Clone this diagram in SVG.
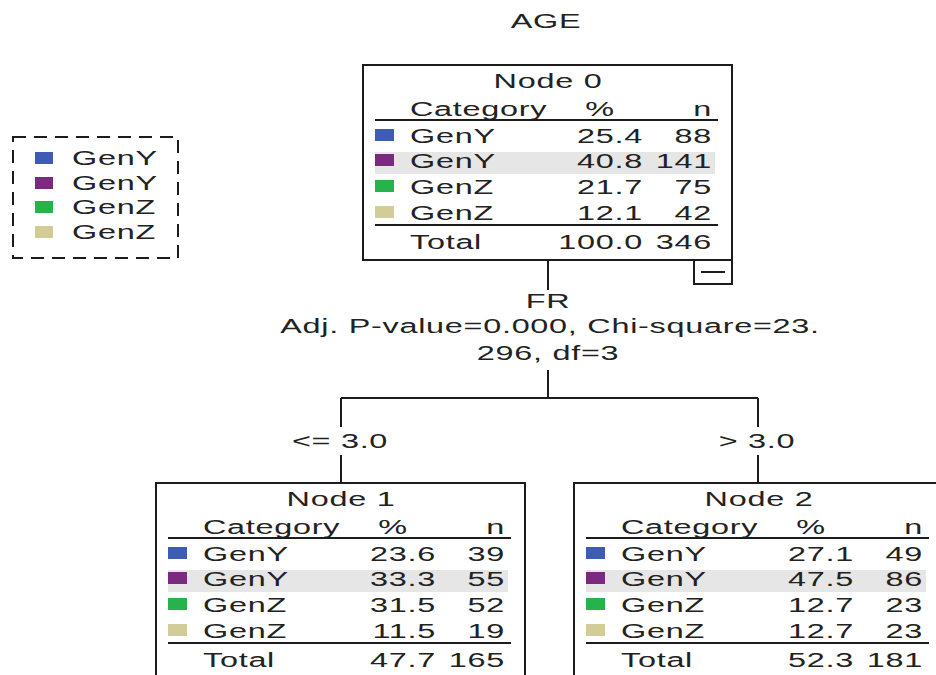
<svg xmlns="http://www.w3.org/2000/svg" width="936" height="675" viewBox="0 0 936 675">
  <style>
    .t { font-family: "Liberation Sans", Arial, sans-serif; font-size: 20px; fill: #222222; letter-spacing: 0.45px; }
    .m { text-anchor: middle; }
    .e { text-anchor: end; }
    .box { fill: #ffffff; stroke: #1c1c1c; stroke-width: 2; }
    .rule { stroke: #1c1c1c; stroke-width: 2; }
    .conn { fill: none; stroke: #1c1c1c; stroke-width: 2; }
    .hl { fill: #e6e6e6; }
    .c1 { fill: #3f5cb4; }
    .c2 { fill: #7a2a7f; }
    .c3 { fill: #27b34c; }
    .c4 { fill: #d2cc97; }
  </style>

  <!-- dependent variable title -->
  <text class="t m" transform="translate(546 28) scale(1.62 1)">AGE</text>

  <!-- legend -->
  <g id="legend">
    <rect x="13" y="137" width="165" height="121" fill="none" stroke="#1c1c1c" stroke-width="2" stroke-dasharray="13 8"/>
    <rect class="c1" x="35" y="152" width="18" height="12"/>
    <rect class="c2" x="35" y="177" width="18" height="12"/>
    <rect class="c3" x="35" y="201" width="18" height="12"/>
    <rect class="c4" x="35" y="226" width="18" height="12"/>
    <text class="t" transform="translate(72 165) scale(1.62 1)">GenY</text>
    <text class="t" transform="translate(72 190) scale(1.62 1)">GenY</text>
    <text class="t" transform="translate(72 214) scale(1.62 1)">GenZ</text>
    <text class="t" transform="translate(72 239) scale(1.62 1)">GenZ</text>
  </g>

  <!-- connectors and split labels -->
  <g id="connectors">
    <path class="conn" d="M548 260 V290"/>
    <path class="conn" d="M548 370 V398 M341 398 H758 M341 398 V427 M758 398 V427 M341 455 V483 M758 455 V483"/>
    <rect x="694" y="260" width="38" height="24" fill="#ffffff" stroke="#1c1c1c" stroke-width="2"/>
    <path class="conn" d="M701 272 H725"/>
    <text class="t m" transform="translate(548 308) scale(1.62 1)">FR</text>
    <text class="t m" transform="translate(550 333) scale(1.62 1)">Adj. P-value=0.000, Chi-square=23.</text>
    <text class="t m" transform="translate(548 360) scale(1.62 1)">296, df=3</text>
    <text class="t m" transform="translate(340 448) scale(1.62 1)">&lt;= 3.0</text>
    <text class="t m" transform="translate(757 448) scale(1.62 1)">&gt; 3.0</text>
  </g>

  <!-- Node 0 -->
  <g id="node0" transform="translate(363 65)">
    <rect class="box" x="0" y="0" width="369" height="195"/>
    <text class="t m" transform="translate(185 23) scale(1.62 1)">Node 0</text>
    <text class="t" transform="translate(47 51) scale(1.62 1)">Category</text>
    <text class="t m" transform="translate(237 51) scale(1.62 1)">%</text>
    <text class="t e" transform="translate(349 51) scale(1.62 1)">n</text>
    <line class="rule" x1="12" y1="55" x2="355" y2="55"/>
    <rect class="hl" x="12" y="87" width="340" height="22"/>
    <rect class="c1" x="12" y="64" width="19" height="12"/>
    <rect class="c2" x="12" y="89" width="19" height="12"/>
    <rect class="c3" x="12" y="115" width="19" height="12"/>
    <rect class="c4" x="12" y="141" width="19" height="12"/>
    <text class="t" transform="translate(47 78) scale(1.62 1)">GenY</text>
    <text class="t e" transform="translate(280 78) scale(1.62 1)">25.4</text>
    <text class="t e" transform="translate(349 78) scale(1.62 1)">88</text>
    <text class="t" transform="translate(47 103) scale(1.62 1)">GenY</text>
    <text class="t e" transform="translate(280 103) scale(1.62 1)">40.8</text>
    <text class="t e" transform="translate(349 103) scale(1.62 1)">141</text>
    <text class="t" transform="translate(47 129) scale(1.62 1)">GenZ</text>
    <text class="t e" transform="translate(280 129) scale(1.62 1)">21.7</text>
    <text class="t e" transform="translate(349 129) scale(1.62 1)">75</text>
    <text class="t" transform="translate(47 155) scale(1.62 1)">GenZ</text>
    <text class="t e" transform="translate(280 155) scale(1.62 1)">12.1</text>
    <text class="t e" transform="translate(349 155) scale(1.62 1)">42</text>
    <line class="rule" x1="12" y1="160" x2="355" y2="160"/>
    <text class="t" transform="translate(47 184) scale(1.62 1)">Total</text>
    <text class="t e" transform="translate(280 184) scale(1.62 1)">100.0</text>
    <text class="t e" transform="translate(349 184) scale(1.62 1)">346</text>
  </g>

  <!-- Node 1 -->
  <g id="node1" transform="translate(156 483)">
    <rect class="box" x="0" y="0" width="369" height="195"/>
    <text class="t m" transform="translate(185 23) scale(1.62 1)">Node 1</text>
    <text class="t" transform="translate(47 51) scale(1.62 1)">Category</text>
    <text class="t m" transform="translate(237 51) scale(1.62 1)">%</text>
    <text class="t e" transform="translate(349 51) scale(1.62 1)">n</text>
    <line class="rule" x1="12" y1="55" x2="355" y2="55"/>
    <rect class="hl" x="12" y="87" width="340" height="22"/>
    <rect class="c1" x="12" y="64" width="19" height="12"/>
    <rect class="c2" x="12" y="89" width="19" height="12"/>
    <rect class="c3" x="12" y="115" width="19" height="12"/>
    <rect class="c4" x="12" y="141" width="19" height="12"/>
    <text class="t" transform="translate(47 78) scale(1.62 1)">GenY</text>
    <text class="t e" transform="translate(280 78) scale(1.62 1)">23.6</text>
    <text class="t e" transform="translate(349 78) scale(1.62 1)">39</text>
    <text class="t" transform="translate(47 103) scale(1.62 1)">GenY</text>
    <text class="t e" transform="translate(280 103) scale(1.62 1)">33.3</text>
    <text class="t e" transform="translate(349 103) scale(1.62 1)">55</text>
    <text class="t" transform="translate(47 129) scale(1.62 1)">GenZ</text>
    <text class="t e" transform="translate(280 129) scale(1.62 1)">31.5</text>
    <text class="t e" transform="translate(349 129) scale(1.62 1)">52</text>
    <text class="t" transform="translate(47 155) scale(1.62 1)">GenZ</text>
    <text class="t e" transform="translate(280 155) scale(1.62 1)">11.5</text>
    <text class="t e" transform="translate(349 155) scale(1.62 1)">19</text>
    <line class="rule" x1="12" y1="160" x2="355" y2="160"/>
    <text class="t" transform="translate(47 184) scale(1.62 1)">Total</text>
    <text class="t e" transform="translate(280 184) scale(1.62 1)">47.7</text>
    <text class="t e" transform="translate(349 184) scale(1.62 1)">165</text>
  </g>

  <!-- Node 2 -->
  <g id="node2" transform="translate(574 483)">
    <rect class="box" x="0" y="0" width="369" height="195"/>
    <text class="t m" transform="translate(185 23) scale(1.62 1)">Node 2</text>
    <text class="t" transform="translate(47 51) scale(1.62 1)">Category</text>
    <text class="t m" transform="translate(237 51) scale(1.62 1)">%</text>
    <text class="t e" transform="translate(349 51) scale(1.62 1)">n</text>
    <line class="rule" x1="12" y1="55" x2="355" y2="55"/>
    <rect class="hl" x="12" y="87" width="340" height="22"/>
    <rect class="c1" x="12" y="64" width="19" height="12"/>
    <rect class="c2" x="12" y="89" width="19" height="12"/>
    <rect class="c3" x="12" y="115" width="19" height="12"/>
    <rect class="c4" x="12" y="141" width="19" height="12"/>
    <text class="t" transform="translate(47 78) scale(1.62 1)">GenY</text>
    <text class="t e" transform="translate(280 78) scale(1.62 1)">27.1</text>
    <text class="t e" transform="translate(349 78) scale(1.62 1)">49</text>
    <text class="t" transform="translate(47 103) scale(1.62 1)">GenY</text>
    <text class="t e" transform="translate(280 103) scale(1.62 1)">47.5</text>
    <text class="t e" transform="translate(349 103) scale(1.62 1)">86</text>
    <text class="t" transform="translate(47 129) scale(1.62 1)">GenZ</text>
    <text class="t e" transform="translate(280 129) scale(1.62 1)">12.7</text>
    <text class="t e" transform="translate(349 129) scale(1.62 1)">23</text>
    <text class="t" transform="translate(47 155) scale(1.62 1)">GenZ</text>
    <text class="t e" transform="translate(280 155) scale(1.62 1)">12.7</text>
    <text class="t e" transform="translate(349 155) scale(1.62 1)">23</text>
    <line class="rule" x1="12" y1="160" x2="355" y2="160"/>
    <text class="t" transform="translate(47 184) scale(1.62 1)">Total</text>
    <text class="t e" transform="translate(280 184) scale(1.62 1)">52.3</text>
    <text class="t e" transform="translate(349 184) scale(1.62 1)">181</text>
  </g>
</svg>
